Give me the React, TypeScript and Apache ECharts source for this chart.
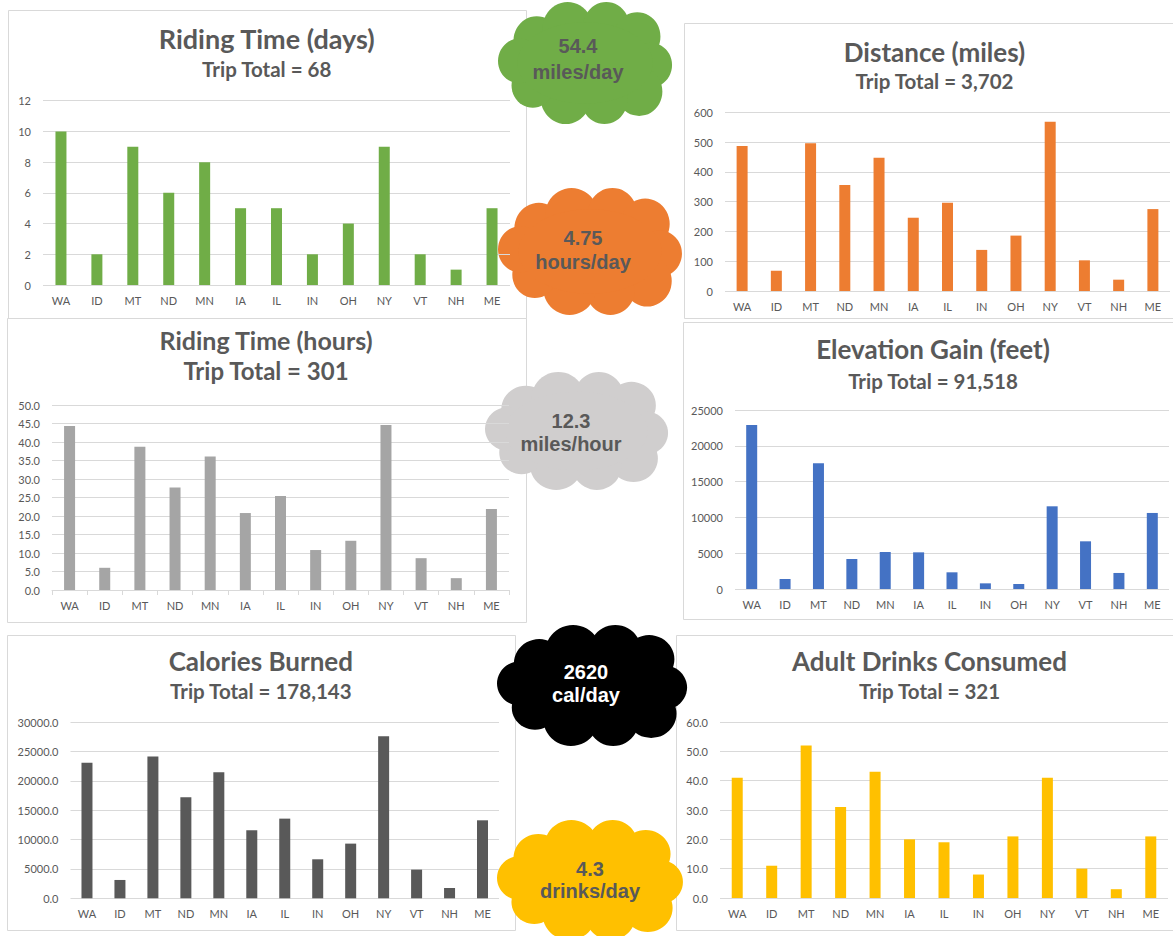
import React, { useEffect, useRef } from "react";
import * as echarts from "echarts";

const states = ["WA", "ID", "MT", "ND", "MN", "IA", "IL", "IN", "OH", "NY", "VT", "NH", "ME"];
const ridingDays = [10, 2, 9, 6, 8, 5, 5, 2, 4, 9, 2, 1, 5];
const distanceMiles = [487, 68, 496, 356, 447, 246, 296, 138, 186, 568, 103, 38, 275];
const ridingHours = [44.3, 6.0, 38.7, 27.7, 36.1, 20.8, 25.4, 10.8, 13.3, 44.6, 8.6, 3.2, 21.9];
const elevationFeet = [22900, 1400, 17550, 4190, 5170, 5120, 2330, 790, 700, 11550, 6660, 2240, 10620];
const caloriesBurned = [23125, 3125, 24150, 17215, 21475, 11590, 13580, 6650, 9320, 27615, 4885, 1760, 13295];
const adultDrinks = [41, 11, 52, 31, 43, 20, 19, 8, 21, 41, 10, 3, 21];

const chartTitles = ["Riding Time (days)", "Distance (miles)", "Riding Time (hours)", "Elevation Gain (feet)", "Calories Burned", "Adult Drinks Consumed"];
const chartSubtitles = ["Trip Total = 68", "Trip Total = 3,702", "Trip Total = 301", "Trip Total = 91,518", "Trip Total = 178,143", "Trip Total = 321"];
const yMax = [12, 600, 50, 25000, 30000, 60];
const yInterval = [2, 100, 5, 5000, 5000, 10];
const yDecimals = [0, 0, 1, 0, 1, 1];

const cloudValues = ["54.4", "4.75", "12.3", "2620", "4.3"];
const cloudUnits = ["miles/day", "hours/day", "miles/hour", "cal/day", "drinks/day"];

const seriesData = [ridingDays, distanceMiles, ridingHours, elevationFeet, caloriesBurned, adultDrinks];
const barColors = ["#70AD47", "#ED7D31", "#A5A5A5", "#4472C4", "#595959", "#FFC000"];

// layout
const grids = [
  { left: 43, top: 100.7, width: 467, height: 184.3 },
  { left: 725, top: 112.3, width: 445, height: 178.7 },
  { left: 52, top: 405, width: 457, height: 185 },
  { left: 735, top: 410, width: 434, height: 179 },
  { left: 70.5, top: 722.3, width: 428.5, height: 176 },
  { left: 720, top: 722, width: 448, height: 176 },
];
const titlePos = [
  { x: 266.7, y: 39.5, sy: 69.5, size: 27, subSize: 20.5 },
  { x: 934.5, y: 52.8, sy: 81.5, size: 26, subSize: 20.5 },
  { x: 266, y: 341.2, sy: 371.3, size: 25, subSize: 24 },
  { x: 933, y: 350.5, sy: 381.2, size: 26, subSize: 20.5 },
  { x: 260.8, y: 662.3, sy: 691.7, size: 26, subSize: 20.5 },
  { x: 929.5, y: 662.3, sy: 691.7, size: 26, subSize: 20.5 },
];
const panels = [
  { x: 8, y: 10, w: 518, h: 308 },
  { x: 684, y: 23, w: 500, h: 295 },
  { x: 7, y: 318, w: 519, h: 304 },
  { x: 683, y: 322, w: 500, h: 297 },
  { x: 7, y: 635, w: 508, h: 295 },
  { x: 676, y: 635, w: 510, h: 295 },
];
const clouds = [
  { x: 498, y: 2, w: 174, h: 122, color: "#70AD47", text: "#595959", ty1: 45.7, ty2: 71.7, tx: 578 },
  { x: 498, y: 188, w: 184, h: 127, color: "#ED7D31", text: "#595959", ty1: 237.7, ty2: 261.7, tx: 583 },
  { x: 485, y: 372, w: 183, h: 118, color: "#D0CECE", text: "#595959", ty1: 421, ty2: 444, tx: 571 },
  { x: 497, y: 625, w: 190, h: 121, color: "#000000", text: "#FFFFFF", ty1: 672, ty2: 695, tx: 586 },
  { x: 497, y: 820, w: 186, h: 120, color: "#FFC000", text: "#595959", ty1: 869, ty2: 891, tx: 590 },
];
// cloud lobes in a 180x120 box
const lobes = [
  [40, 38, 24], [72, 26, 26], [112, 24, 24], [144, 34, 24], [158, 62, 22],
  [146, 88, 24], [110, 96, 24], [70, 94, 26], [36, 82, 22], [22, 58, 22],
];

const FONT = "Lato, 'Open Sans', sans-serif";
const GRID_COLOR = "#D9D9D9";
const TEXT_COLOR = "#595959";

export default function App() {
  const ref = useRef<HTMLDivElement>(null);
  useEffect(() => {
    if (!ref.current) return;
    const chart = echarts.init(ref.current, undefined, { renderer: "svg" });

    const title: any[] = [];
    chartTitles.forEach((t, i) => {
      const p = titlePos[i];
      title.push({
        text: t, left: p.x, top: p.y - p.size * 0.54, padding: 0, textAlign: "center", textVerticalAlign: "top",
        textStyle: { fontFamily: FONT, fontWeight: "bold", fontSize: p.size, color: TEXT_COLOR },
      });
      title.push({
        text: chartSubtitles[i], left: p.x, top: p.sy - p.subSize * 0.54, padding: 0, textAlign: "center", textVerticalAlign: "top",
        textStyle: { fontFamily: FONT, fontWeight: "bold", fontSize: p.subSize, color: TEXT_COLOR },
      });
    });

    const graphic: any[] = [];
    panels.forEach((p) => {
      graphic.push({
        type: "rect", shape: { x: p.x + 0.5, y: p.y + 0.5, width: p.w, height: p.h },
        style: { fill: "none", stroke: GRID_COLOR, lineWidth: 1 }, z: -10, silent: true,
      });
    });
    clouds.forEach((c, i) => {
      const children: any[] = lobes.map((l) => ({
        type: "circle", shape: { cx: l[0], cy: l[1], r: l[2] }, style: { fill: c.color },
      }));
      children.push({ type: "ellipse", shape: { cx: 90, cy: 60, rx: 70, ry: 40 }, style: { fill: c.color } });
      graphic.push({ type: "group", x: c.x, y: c.y, scaleX: c.w / 180, scaleY: c.h / 120, children, z: 50 });
      graphic.push({
        type: "text", x: c.tx, y: c.ty1, z: 60,
        style: { text: cloudValues[i], fill: c.text, font: "bold 20px 'Liberation Sans', Arial, sans-serif", textAlign: "center", textVerticalAlign: "middle" },
      });
      graphic.push({
        type: "text", x: c.tx, y: c.ty2, z: 60,
        style: { text: cloudUnits[i], fill: c.text, font: "bold 20px 'Liberation Sans', Arial, sans-serif", textAlign: "center", textVerticalAlign: "middle" },
      });
    });

    const option: any = {
      animation: false,
      backgroundColor: "#FFFFFF",
      title,
      grid: grids.map((g) => ({ ...g, containLabel: false })),
      xAxis: grids.map((_, i) => ({
        type: "category",
        gridIndex: i,
        data: states,
        axisLine: { show: i === 2, lineStyle: { color: GRID_COLOR, width: 1 } },
        axisTick: { show: i === 2, length: 5, lineStyle: { color: GRID_COLOR } },
        axisLabel: { color: TEXT_COLOR, fontFamily: FONT, fontSize: 11, margin: 10, interval: 0 },
      })),
      yAxis: grids.map((_, i) => ({
        type: "value",
        gridIndex: i,
        min: 0,
        max: yMax[i],
        interval: yInterval[i],
        axisLine: { show: false },
        axisTick: { show: false },
        splitLine: { lineStyle: { color: GRID_COLOR, width: 1 } },
        axisLabel: {
          color: TEXT_COLOR, fontFamily: FONT, fontSize: 11, margin: 12,
          formatter: (v: number) => v.toFixed(yDecimals[i]),
        },
      })),
      series: seriesData.map((d, i) => ({
        type: "bar",
        xAxisIndex: i,
        yAxisIndex: i,
        data: d,
        barWidth: 11,
        itemStyle: { color: barColors[i] },
      })),
      graphic,
    };
    chart.setOption(option);
    return () => chart.dispose();
  }, []);
  return <div ref={ref} style={{ position: "fixed", left: 0, top: 0, width: 1173, height: 936 }} />;
}
